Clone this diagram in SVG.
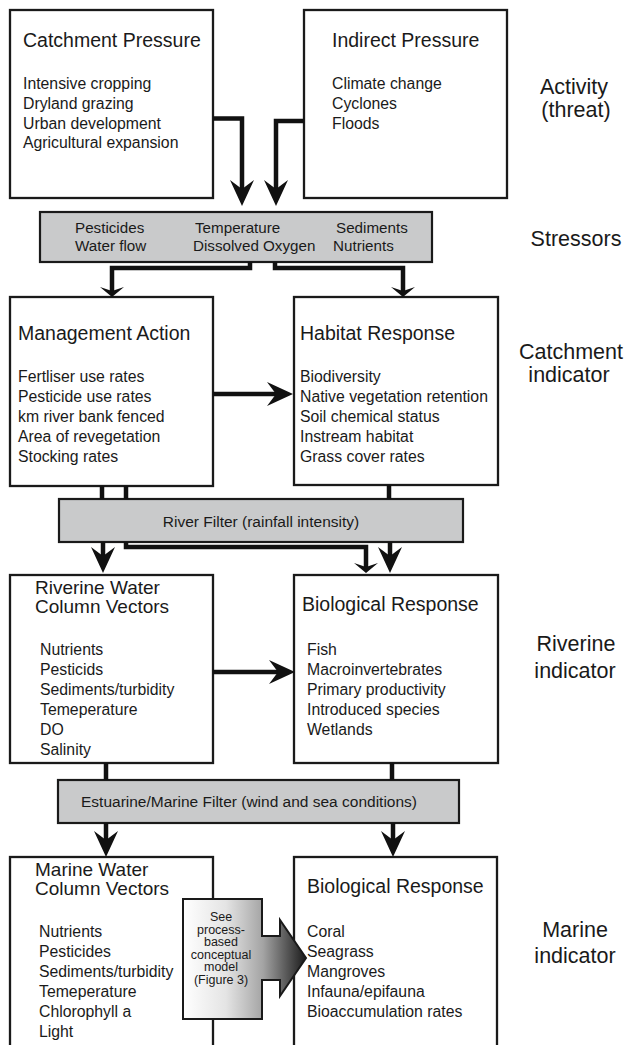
<svg xmlns="http://www.w3.org/2000/svg" xmlns:xlink="http://www.w3.org/1999/xlink" width="627" height="1045" viewBox="0 0 627 1045">
<defs>
<style>
text{font-family:"Liberation Sans",Arial,sans-serif;fill:#1a1a1a}
.box{fill:#fff;stroke:#1a1a1a;stroke-width:2.3}
.bar{fill:#c9cacb;stroke:#1a1a1a;stroke-width:2.2}
.ttl{font-size:19.5px}
.ttl2{font-size:19px}
.itm{font-size:15.8px}
.str{font-size:15.2px}
.flt{font-size:15.5px}
.lbl{font-size:21.5px;text-anchor:middle}
.see{font-size:12.5px;text-anchor:middle}
.conn{fill:none;stroke:#111;stroke-width:4.5;stroke-linejoin:miter}
.head{fill:#111}
</style>
<linearGradient id="arrowGrad" gradientUnits="userSpaceOnUse" x1="183" y1="0" x2="306" y2="0">
<stop offset="0" stop-color="#ffffff"/>
<stop offset="0.35" stop-color="#e4e4e4"/>
<stop offset="0.65" stop-color="#a4a4a4"/>
<stop offset="0.85" stop-color="#555555"/>
<stop offset="1" stop-color="#1a1a1a"/>
</linearGradient>
<path id="ah" class="head" d="M0,0 L-12,-26 L0,-17 L12,-26 Z"/>
<path id="ahs" class="head" d="M0,0 L-12,-10 L0,-6 L12,-10 Z"/>
</defs>
<rect x="0" y="0" width="627" height="1045" fill="#fff"/>

<g id="catchment-pressure">
<rect class="box" x="10" y="10" width="203" height="188"/>
<text class="ttl" x="23" y="47">Catchment Pressure</text>
<text class="itm" x="23" y="89">Intensive cropping</text>
<text class="itm" x="23" y="109">Dryland grazing</text>
<text class="itm" x="23" y="128.5">Urban development</text>
<text class="itm" x="23" y="148">Agricultural expansion</text>
</g>

<g id="indirect-pressure">
<rect class="box" x="304" y="10" width="203" height="188"/>
<text class="ttl" x="332" y="47">Indirect Pressure</text>
<text class="itm" x="332" y="89">Climate change</text>
<text class="itm" x="332" y="109">Cyclones</text>
<text class="itm" x="332" y="128.5">Floods</text>
</g>

<g id="stressors">
<rect class="bar" x="40" y="212" width="392" height="50"/>
<text class="str" x="75" y="233">Pesticides</text>
<text class="str" x="75" y="251">Water flow</text>
<text class="str" x="195" y="233">Temperature</text>
<text class="str" x="193" y="251">Dissolved Oxygen</text>
<text class="str" x="336" y="233">Sediments</text>
<text class="str" x="333" y="251">Nutrients</text>
</g>

<g id="management-action">
<rect class="box" x="10" y="297" width="203" height="189"/>
<text class="ttl" x="18" y="340">Management Action</text>
<text class="itm" x="18" y="382">Fertliser use rates</text>
<text class="itm" x="18" y="402">Pesticide use rates</text>
<text class="itm" x="18" y="422">km river bank fenced</text>
<text class="itm" x="18" y="442">Area of revegetation</text>
<text class="itm" x="18" y="462">Stocking rates</text>
</g>

<g id="habitat-response">
<rect class="box" x="294" y="297" width="204" height="188"/>
<text class="ttl" x="300" y="340">Habitat Response</text>
<text class="itm" x="300" y="382">Biodiversity</text>
<text class="itm" x="300" y="402">Native vegetation retention</text>
<text class="itm" x="300" y="422">Soil chemical status</text>
<text class="itm" x="300" y="442">Instream habitat</text>
<text class="itm" x="300" y="462">Grass cover rates</text>
</g>

<g id="river-filter">
<rect class="bar" x="59" y="499" width="404" height="43"/>
<text class="flt" x="261" y="527" text-anchor="middle">River Filter (rainfall intensity)</text>
</g>

<g id="riverine-vectors">
<rect class="box" x="10" y="575" width="203" height="188"/>
<text class="ttl2" x="35" y="594">Riverine Water</text>
<text class="ttl2" x="35" y="613">Column Vectors</text>
<text class="itm" x="40" y="655">Nutrients</text>
<text class="itm" x="40" y="675">Pesticids</text>
<text class="itm" x="40" y="695">Sediments/turbidity</text>
<text class="itm" x="40" y="715">Temeperature</text>
<text class="itm" x="40" y="735">DO</text>
<text class="itm" x="40" y="755">Salinity</text>
</g>

<g id="riverine-biological-response">
<rect class="box" x="294" y="575" width="204" height="188"/>
<text class="ttl" x="302" y="611">Biological Response</text>
<text class="itm" x="307" y="655">Fish</text>
<text class="itm" x="307" y="675">Macroinvertebrates</text>
<text class="itm" x="307" y="695">Primary productivity</text>
<text class="itm" x="307" y="715">Introduced species</text>
<text class="itm" x="307" y="735">Wetlands</text>
</g>

<g id="estuarine-filter">
<rect class="bar" x="58" y="780" width="401" height="43"/>
<text class="flt" x="81" y="807">Estuarine/Marine Filter (wind and sea conditions)</text>
</g>

<g id="marine-vectors">
<rect class="box" x="10" y="857" width="203" height="190"/>
<text class="ttl2" x="35" y="876">Marine Water</text>
<text class="ttl2" x="35" y="895">Column Vectors</text>
<text class="itm" x="39" y="937">Nutrients</text>
<text class="itm" x="39" y="957">Pesticides</text>
<text class="itm" x="39" y="977">Sediments/turbidity</text>
<text class="itm" x="39" y="997">Temeperature</text>
<text class="itm" x="39" y="1017">Chlorophyll a</text>
<text class="itm" x="39" y="1037">Light</text>
</g>

<g id="marine-biological-response">
<rect class="box" x="294" y="857" width="203" height="190"/>
<text class="ttl" x="307" y="893">Biological Response</text>
<text class="itm" x="307" y="937">Coral</text>
<text class="itm" x="307" y="957">Seagrass</text>
<text class="itm" x="307" y="977">Mangroves</text>
<text class="itm" x="307" y="997">Infauna/epifauna</text>
<text class="itm" x="307" y="1017">Bioaccumulation rates</text>
</g>

<g id="row-labels">
<text class="lbl" x="574" y="94">Activity</text>
<text class="lbl" x="576" y="117">(threat)</text>
<text class="lbl" x="576" y="246">Stressors</text>
<text class="lbl" x="571" y="359">Catchment</text>
<text class="lbl" x="569" y="382">indicator</text>
<text class="lbl" x="576" y="651">Riverine</text>
<text class="lbl" x="575" y="678">indicator</text>
<text class="lbl" x="575" y="937">Marine</text>
<text class="lbl" x="575" y="963">indicator</text>
</g>

<g id="connectors">
<path class="conn" d="M213,118.5 H242 V190"/>
<use xlink:href="#ah" transform="translate(242,206)"/>
<path class="conn" d="M304,121 H276 V190"/>
<use xlink:href="#ah" transform="translate(276,206)"/>
<path class="conn" d="M250,262 V268 H112 V292"/>
<use xlink:href="#ahs" transform="translate(112,297)"/>
<path class="conn" d="M275,262 V268 H403 V292"/>
<use xlink:href="#ahs" transform="translate(403,297)"/>
<path class="conn" d="M213,394 H276"/>
<use xlink:href="#ah" transform="translate(293,394) rotate(-90)"/>
<path class="conn" d="M102,486 V499 M126,486 V499 M389,485 V499"/>
<path class="conn" d="M103,542 V556"/>
<use xlink:href="#ah" transform="translate(103,573)"/>
<path class="conn" d="M126,542 V547 H366 V568"/>
<use xlink:href="#ahs" transform="translate(366,573)"/>
<path class="conn" d="M390,542 V556"/>
<use xlink:href="#ah" transform="translate(390,573)"/>
<path class="conn" d="M213,672 H278"/>
<use xlink:href="#ah" transform="translate(295,672) rotate(-90)"/>
<path class="conn" d="M106,763 V780 M392,763 V780"/>
<path class="conn" d="M106,823 V840"/>
<use xlink:href="#ah" transform="translate(106,857)"/>
<path class="conn" d="M393,823 V840"/>
<use xlink:href="#ah" transform="translate(393,857)"/>
</g>

<g id="process-model-arrow">
<path d="M183,899 H262 V936 H280 V920 L306,958 L280,996 V980 H262 V1019 H183 Z" fill="url(#arrowGrad)" stroke="#1a1a1a" stroke-width="2"/>
<text class="see" x="221" y="921">See</text>
<text class="see" x="221" y="933.5">process-</text>
<text class="see" x="221" y="946">based</text>
<text class="see" x="221" y="958.5">conceptual</text>
<text class="see" x="221" y="971">model</text>
<text class="see" x="221" y="983.5">(Figure 3)</text>
</g>
</svg>
